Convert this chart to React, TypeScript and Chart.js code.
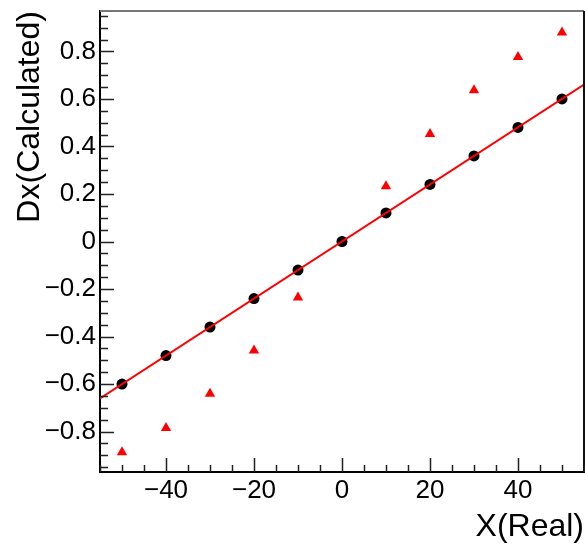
import React, { useEffect, useRef } from "react";
import { Chart, registerables } from "chart.js";

Chart.register(...registerables);

// ---- data ----
const xReal = [-50, -40, -30, -20, -10, 0, 10, 20, 30, 40, 50];
const dxCalculated = [-0.6, -0.48, -0.36, -0.24, -0.12, 0, 0.12, 0.24, 0.36, 0.48, 0.6];
const dxOther = [-0.887, -0.785, -0.641, -0.459, -0.236, 0, 0.233, 0.452, 0.636, 0.776, 0.879];
const fitX = [-55, 55];
const fitY = [-0.66, 0.66];

const xMin = -55;
const xMax = 55;
const yMin = -0.97;
const yMax = 0.97;
const xMajor = 20;
const xMinor = 5;
const yMajor = 0.2;
const yMinor = 0.05;

const FONT = '"Liberation Sans", Arial, Helvetica, sans-serif';

const isMultiple = (v: number, step: number) =>
  Math.abs(v / step - Math.round(v / step)) < 1e-6;

const fmt = (v: number, digits: number) => {
  if (Math.abs(v) < 1e-9) return "0";
  const s = Math.abs(v).toFixed(digits);
  return (v < 0 ? "\u2212" : "") + s;
};

const frameTicks = {
  id: "frameTicks",
  afterDraw(chart: any) {
    const { ctx, chartArea: a, scales } = chart;
    ctx.save();
    // top and right frame
    ctx.lineWidth = 2;
    ctx.strokeStyle = "#777";
    ctx.beginPath();
    ctx.moveTo(a.left, a.top);
    ctx.lineTo(a.right, a.top);
    ctx.stroke();
    ctx.strokeStyle = "#111";
    ctx.beginPath();
    ctx.moveTo(a.right, a.top);
    ctx.lineTo(a.right, a.bottom);
    ctx.stroke();
    // inward ticks
    ctx.lineWidth = 1.5;
    ctx.strokeStyle = "#222";
    ctx.beginPath();
    for (const t of scales.x.ticks) {
      const px = Math.round(scales.x.getPixelForValue(t.value)) + 0.5;
      const len = isMultiple(t.value, xMajor) ? 14 : 7;
      ctx.moveTo(px, a.bottom);
      ctx.lineTo(px, a.bottom - len);
    }
    for (const t of scales.y.ticks) {
      const py = Math.round(scales.y.getPixelForValue(t.value)) + 0.5;
      const len = isMultiple(t.value, yMajor) ? 14 : 8;
      ctx.moveTo(a.left, py);
      ctx.lineTo(a.left + len, py);
    }
    ctx.stroke();
    ctx.restore();
  },
};

export default function App() {
  const ref = useRef<HTMLCanvasElement | null>(null);

  useEffect(() => {
    if (!ref.current) return;
    const chart = new Chart(ref.current, {
      type: "scatter",
      data: {
        datasets: [
          {
            type: "line",
            label: "fit",
            data: fitX.map((x, i) => ({ x, y: fitY[i] })),
            borderColor: "#ff0000",
            borderWidth: 2,
            pointRadius: 0,
            showLine: true,
            fill: false,
          } as any,
          {
            label: "Dx(Calculated)",
            data: xReal.map((x, i) => ({ x, y: dxCalculated[i] })),
            backgroundColor: "#000",
            borderWidth: 0,
            pointRadius: 5.5,
            pointStyle: "circle",
          },
          {
            label: "Dx(other)",
            data: xReal.map((x, i) => ({ x, y: dxOther[i] })),
            backgroundColor: "#ff0000",
            borderWidth: 0,
            pointRadius: 6,
            pointStyle: "triangle",
          },
        ],
      },
      options: {
        animation: false,
        responsive: false,
        devicePixelRatio: 1,
        layout: { autoPadding: false, padding: { top: 11, right: 1, left: 0, bottom: 0 } },
        plugins: {
          legend: { display: false },
          tooltip: { enabled: false },
        },
        scales: {
          x: {
            type: "linear",
            position: "bottom",
            min: xMin,
            max: xMax,
            grid: { display: false, drawTicks: false },
            border: { display: true, color: "#000", width: 2 },
            ticks: {
              stepSize: xMinor,
              includeBounds: false,
              autoSkip: false,
              maxRotation: 0,
              padding: 3,
              color: "#000",
              font: { family: FONT, size: 26 },
              callback: (v: any) => (isMultiple(Number(v), xMajor) ? fmt(Number(v), 0) : ""),
            },
            title: {
              display: true,
              text: "X(Real)",
              align: "end",
              color: "#000",
              font: { family: FONT, size: 32 },
              padding: { top: 0, bottom: 0 },
            },
            afterFit: (s: any) => {
              s.height = 74;
              s.paddingLeft = 0;
              s.paddingRight = 0;
            },
          },
          y: {
            type: "linear",
            position: "left",
            min: yMin,
            max: yMax,
            grid: { display: false, drawTicks: false },
            border: { display: true, color: "#000", width: 2 },
            ticks: {
              stepSize: yMinor,
              includeBounds: false,
              autoSkip: false,
              padding: 4,
              color: "#000",
              font: { family: FONT, size: 26 },
              callback: (v: any) => (isMultiple(Number(v), yMajor) ? fmt(Number(v), 1) : ""),
            },
            title: {
              display: true,
              text: "Dx(Calculated)",
              align: "end",
              color: "#000",
              font: { family: FONT, size: 32 },
              padding: { top: 11, bottom: 0 },
            },
            afterFit: (s: any) => {
              s.width = 100;
              s.paddingTop = 0;
              s.paddingBottom = 0;
            },
          },
        },
      },
      plugins: [frameTicks],
    });
    return () => chart.destroy();
  }, []);

  return (
    <div style={{ position: "fixed", left: 0, top: 0, width: 585, height: 546, background: "#fff" }}>
      <canvas ref={ref} width={585} height={546} style={{ display: "block" }} />
    </div>
  );
}
